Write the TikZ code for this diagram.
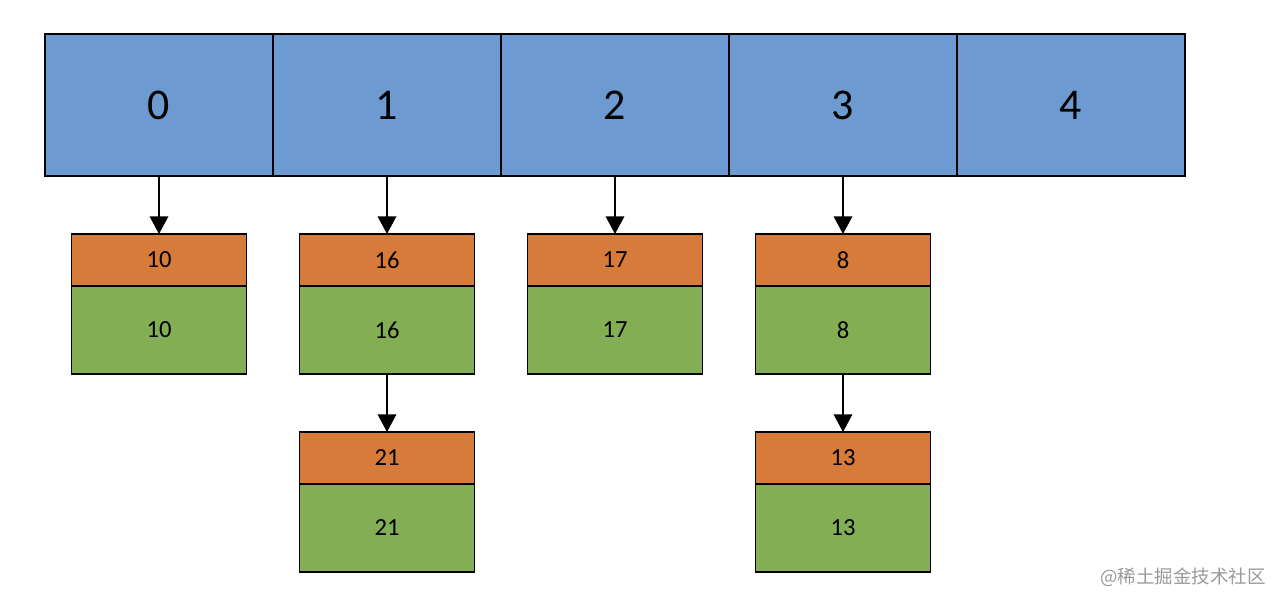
\documentclass[tikz,border=0pt]{standalone}
\usepackage{fontspec}
\setmainfont{Carlito}
\newfontfamily\cjk{Noto Sans CJK SC}
\usetikzlibrary{arrows.meta,positioning}
\definecolor{slotblue}{HTML}{6D9BD1}
\definecolor{keyorange}{HTML}{D67B3A}
\definecolor{valgreen}{HTML}{83AE53}
\tikzset{
    slot/.style={
        draw, fill=slotblue, line width=1pt, outer sep=0pt, inner sep=0pt,
        minimum width=4.56cm, minimum height=2.84cm,
        font=\fontsize{25}{30}\selectfont
    },
    keypart/.style={
        draw, fill=keyorange, line width=1pt, outer sep=0pt, inner sep=0pt,
        minimum width=3.5cm, minimum height=1.04cm,
        font=\fontsize{14}{16}\selectfont
    },
    valpart/.style={
        keypart, fill=valgreen, minimum height=1.76cm
    },
    link/.style={
        -{Triangle[width=10.5pt,length=10pt]}, line width=1pt
    }
}

\begin{document}
\begin{tikzpicture}
    \useasboundingbox (0,0) rectangle (25.64,12.08);
    % bucket array
    \foreach \i in {0,...,4}
        \node[slot] (slot\i) at (3.18+4.56*\i,9.98) {\i};

    % chained entries
    \node[keypart, below=1.16cm of slot0] (k10) {10};
    \node[valpart, below=0pt of k10] (v10) {10};
    \node[keypart, below=1.16cm of slot1] (k16) {16};
    \node[valpart, below=0pt of k16] (v16) {16};
    \node[keypart, below=1.16cm of v16] (k21) {21};
    \node[valpart, below=0pt of k21] (v21) {21};
    \node[keypart, below=1.16cm of slot2] (k17) {17};
    \node[valpart, below=0pt of k17] (v17) {17};
    \node[keypart, below=1.16cm of slot3] (k8) {8};
    \node[valpart, below=0pt of k8] (v8) {8};
    \node[keypart, below=1.16cm of v8] (k13) {13};
    \node[valpart, below=0pt of k13] (v13) {13};

    \draw[link] (slot0) -- (k10);
    \draw[link] (slot1) -- (k16);
    \draw[link] (v16) -- (k21);
    \draw[link] (slot2) -- (k17);
    \draw[link] (slot3) -- (k8);
    \draw[link] (v8) -- (k13);

    \node[text=black!40, font=\cjk\fontsize{10.5}{12}\selectfont] (mark) at (23.66,0.54) {@稀土掘金技术社区};
\end{tikzpicture}
\end{document}
